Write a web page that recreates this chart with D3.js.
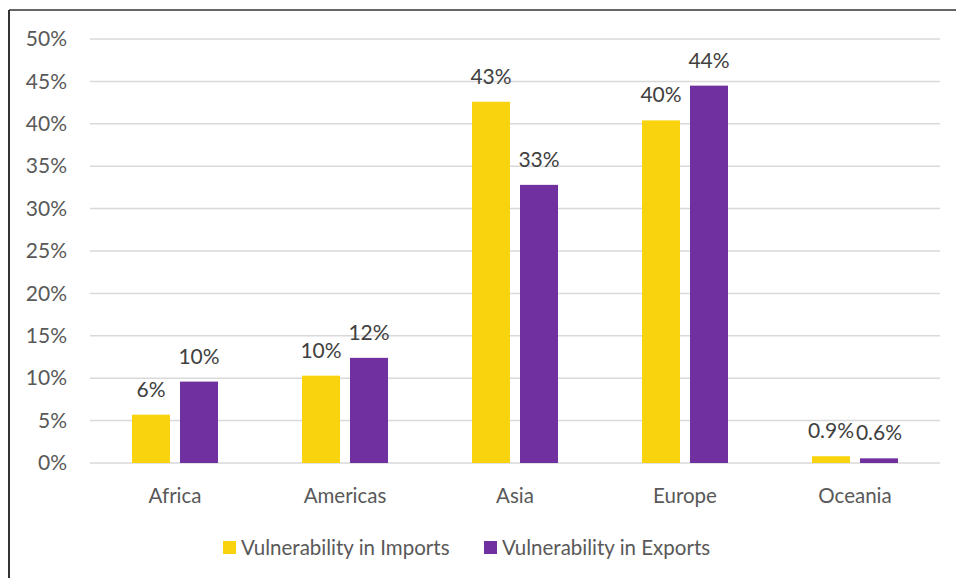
<!DOCTYPE html>
<html><head><meta charset="utf-8">
<script src="https://cdn.jsdelivr.net/npm/d3@7"></script>
<style>
html,body{margin:0;padding:0;background:#fff;}
svg{display:block;font-family:Lato,"Open Sans",sans-serif;}
</style></head>
<body>
<svg id="chart" width="956" height="578"></svg>
<script>
const categories = ["Africa","Americas","Asia","Europe","Oceania"];
const seriesNames = ["Vulnerability in Imports","Vulnerability in Exports"];
const importsValues = [5.7, 10.3, 42.6, 40.4, 0.8];
const exportsValues = [9.6, 12.4, 32.8, 44.5, 0.55];
const importsLabels = ["6%","10%","43%","40%","0.9%"];
const exportsLabels = ["10%","12%","33%","44%","0.6%"];
const yTicks = [0,5,10,15,20,25,30,35,40,45,50];
const colors = ["#FAD30F","#7030A0"];

(function(){
const svg = d3.select("#chart");
const pLeft = 90, pRight = 940, pTop = 39, pBottom = 463;

// frame
svg.append("line").attr("x1",9).attr("x2",956).attr("y1",10).attr("y2",10).attr("stroke","#333").attr("stroke-width",1.5);
svg.append("line").attr("x1",9).attr("x2",9).attr("y1",10).attr("y2",578).attr("stroke","#333").attr("stroke-width",2);

const x0 = d3.scaleBand().domain(categories).range([pLeft,pRight]);
const x1 = d3.scaleBand().domain(seriesNames).range([0,86]).paddingInner(10/48);
const y = d3.scaleLinear().domain([0,50]).range([pBottom,pTop]);

// gridlines
svg.append("g").selectAll("line").data(yTicks).join("line")
  .attr("x1",pLeft).attr("x2",pRight)
  .attr("y1",d=>y(d)).attr("y2",d=>y(d))
  .attr("stroke","#d9d9d9").attr("stroke-width",1.5);

// y axis labels
const yAxis = d3.axisLeft(y).tickValues(yTicks).tickFormat(d=>d+"%").tickSize(0).tickPadding(0);
const gy = svg.append("g").attr("transform",`translate(${pLeft-23},0)`).call(yAxis);
gy.select(".domain").remove();
gy.selectAll("text").attr("font-size",21).attr("fill","#595959").attr("font-family","Lato,'Open Sans',sans-serif");

// x axis labels
const xAxis = d3.axisBottom(x0).tickSize(0).tickPadding(0);
const gx = svg.append("g").attr("transform",`translate(0,${pBottom+25.5})`).call(xAxis);
gx.select(".domain").remove();
gx.selectAll("text").attr("font-size",20.5).attr("fill","#595959").attr("font-family","Lato,'Open Sans',sans-serif");

const series = [importsValues, exportsValues];
const labels = [importsLabels, exportsLabels];
const groupOffset = (x0.bandwidth()-86)/2;

series.forEach((vals,si)=>{
  const g = svg.append("g");
  g.selectAll("rect").data(categories).join("rect")
    .attr("x",(c)=>x0(c)+groupOffset+x1(seriesNames[si]))
    .attr("width",x1.bandwidth())
    .attr("y",(c,i)=>y(vals[i]))
    .attr("height",(c,i)=>y(0)-y(vals[i]))
    .attr("fill",colors[si]);
  g.selectAll("text").data(categories).join("text")
    .attr("x",(c)=>x0(c)+groupOffset+x1(seriesNames[si])+x1.bandwidth()/2)
    .attr("y",(c,i)=>y(vals[i])-18)
    .attr("text-anchor","middle")
    .attr("font-size",21).attr("fill","#404040")
    .text((c,i)=>labels[si][i]);
});

// legend
const legendItems = [{x:223,name:seriesNames[0],c:colors[0]},{x:484,name:seriesNames[1],c:colors[1]}];
const lg = svg.append("g");
legendItems.forEach(it=>{
  lg.append("rect").attr("x",it.x).attr("y",541).attr("width",13).attr("height",13).attr("fill",it.c);
  lg.append("text").attr("x",it.x+18).attr("y",555).attr("font-size",20.5).attr("fill","#595959").text(it.name);
});
})();
</script>
</body></html>
